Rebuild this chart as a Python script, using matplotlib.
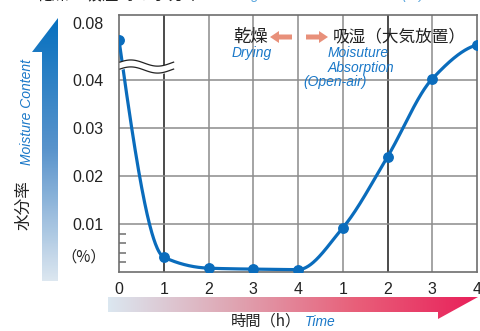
import numpy as np
import matplotlib
matplotlib.use("Agg")
import matplotlib.pyplot as plt
from matplotlib.patches import Polygon, FancyArrow
from matplotlib.colors import LinearSegmentedColormap
import matplotlib.transforms as mtransforms

# ---- data ----
drying_hours = [0, 1, 2, 3, 4]
drying_moisture = [0.068, 0.0031, 0.0008, 0.0006, 0.0005]
absorb_hours = [1, 2, 3, 4]
absorb_moisture = [0.0092, 0.024, 0.0408, 0.0646]
y_tick_values = [0.01, 0.02, 0.03, 0.04, 0.08]
y_tick_labels = ["0.01", "0.02", "0.03", "0.04", "0.08"]
y_minor_ticks = [0.002, 0.004, 0.006, 0.008]

BLUE = "#0a6cbc"
TEXT_BLUE = "#1a78c8"
FONT = ["Liberation Sans", "Noto Sans CJK JP", "DejaVu Sans"]
JP = ["Noto Sans CJK JP", "Liberation Sans"]
plt.rcParams["font.family"] = FONT

# broken axis: everything above 0.04 is squeezed
BREAK = 0.04
SQUEEZE = 0.297


def fwd(v):
    v = np.asarray(v, dtype=float)
    return np.where(v <= BREAK, v, BREAK + (v - BREAK) * SQUEEZE)


def inv(d):
    d = np.asarray(d, dtype=float)
    return np.where(d <= BREAK, d, BREAK + (d - BREAK) / SQUEEZE)


def pchip(x, y, xs):
    """monotone cubic through the points, only used to draw the smooth line"""
    x = np.asarray(x, float)
    y = np.asarray(y, float)
    h = np.diff(x)
    delta = np.diff(y) / h
    n = len(x)
    d = np.zeros(n)
    for k in range(1, n - 1):
        if delta[k - 1] * delta[k] <= 0:
            d[k] = 0.0
        else:
            w1 = 2 * h[k] + h[k - 1]
            w2 = h[k] + 2 * h[k - 1]
            d[k] = (w1 + w2) / (w1 / delta[k - 1] + w2 / delta[k])

    def end(h0, h1, d0, d1):
        s = ((2 * h0 + h1) * d0 - h0 * d1) / (h0 + h1)
        if np.sign(s) != np.sign(d0):
            return 0.0
        if np.sign(d0) != np.sign(d1) and abs(s) > 3 * abs(d0):
            return 3 * d0
        return s

    d[0] = end(h[0], h[1], delta[0], delta[1])
    d[-1] = end(h[-1], h[-2], delta[-1], delta[-2])
    idx = np.clip(np.searchsorted(x, xs) - 1, 0, n - 2)
    t = (xs - x[idx]) / h[idx]
    h00 = 2 * t**3 - 3 * t**2 + 1
    h10 = t**3 - 2 * t**2 + t
    h01 = -2 * t**3 + 3 * t**2
    h11 = t**3 - t**2
    return h00 * y[idx] + h10 * h[idx] * d[idx] + h01 * y[idx + 1] + h11 * h[idx] * d[idx + 1]


fig = plt.figure(figsize=(4.8, 3.31), dpi=100)
ax = fig.add_axes([119 / 480, 59 / 331, 358 / 480, 257 / 331])
ax.set_facecolor("none")

xpos = list(range(len(drying_hours))) + [len(drying_hours) - 1 + h for h in absorb_hours]
xlabels = [str(h) for h in drying_hours] + [str(h) for h in absorb_hours]
values = drying_moisture + absorb_moisture

ax.set_yscale("function", functions=(fwd, inv))
ax.set_xlim(0, xpos[-1])
ax.set_ylim(0, 0.0856)

# grid
for xp in xpos[1:-1]:
    col = "#1a1a1a" if xp in (1, 6) else "#8c8c8c"
    ax.axvline(xp, color=col, lw=1.1, zorder=1)
for yv in y_tick_values[:4]:
    ax.axhline(yv, color="#8c8c8c", lw=1.1, zorder=1)
for s in ax.spines.values():
    s.set_color("#6e6e6e")
    s.set_linewidth(1.2)

# smooth line + markers
xs = np.linspace(0, xpos[-1], 600)
ys = inv(pchip(xpos, fwd(values), xs))
ax.plot(xs, ys, color=BLUE, lw=2.3, zorder=3, solid_capstyle="round")
ax.plot(xpos, values, "o", color=BLUE, ms=6.8, zorder=4)

# break symbol
tb = mtransforms.blended_transform_factory(ax.transData, ax.transAxes)
wx = np.linspace(0.02, 1.22, 80)
wave = 0.012 * np.sin((wx - 0.02) / 1.2 * 2 * np.pi + 0.3)
lo = 0.786 + wave
hi = 0.813 + wave
ax.fill_between(wx, lo, hi, color="white", transform=tb, zorder=5)
ax.plot(wx, lo, color="#222222", lw=0.9, transform=tb, zorder=6)
ax.plot(wx, hi, color="#222222", lw=0.9, transform=tb, zorder=6)

# ticks
ax.set_xticks(xpos)
ax.set_xticklabels(xlabels)
ax.set_yticks(y_tick_values)
ax.set_yticklabels(y_tick_labels)
ax.set_yticks(y_minor_ticks, minor=True)
ax.tick_params(axis="both", which="major", length=0, labelsize=11.5, colors="#222222")
ax.tick_params(axis="y", which="major", pad=11)
ax.tick_params(axis="x", which="major", pad=7)
ax.tick_params(axis="y", which="minor", direction="in", length=5, width=1.1, color="#6e6e6e")
ax.tick_params(axis="x", which="minor", length=0)

# ---- overlay in pixel coordinates for arrows and labels ----
ov = fig.add_axes([0, 0, 1, 1])
ov.axis("off")
ov.patch.set_alpha(0)

# vertical gradient arrow
vcmap = LinearSegmentedColormap.from_list("v", ["#0670bf", "#5a94cc", "#dde7f0"])
vpoly = Polygon([(42, 281), (58, 281), (58, 18), (32, 52), (42, 52)], closed=True,
                facecolor="none", edgecolor="none", transform=ov.transData)
ov.add_patch(vpoly)
grad = np.linspace(0, 1, 256).reshape(-1, 1)
im = ov.imshow(grad, cmap=vcmap, extent=(30, 60, 281, 18), aspect="auto", zorder=1)
im.set_clip_path(vpoly)

# horizontal gradient arrow
hcmap = LinearSegmentedColormap.from_list("h", ["#dbe7f0", "#dfa6b3", "#e8607a", "#e8205a"])
hpoly = Polygon([(108, 297), (478, 297), (438, 319), (438, 312), (108, 312)], closed=True,
                facecolor="none", edgecolor="none", transform=ov.transData)
ov.add_patch(hpoly)
hgrad = np.linspace(0, 1, 256).reshape(1, -1)
im2 = ov.imshow(hgrad, cmap=hcmap, extent=(108, 478, 320, 296), aspect="auto", zorder=1)
im2.set_clip_path(hpoly)

ov.set_xlim(0, 480)
ov.set_ylim(331, 0)

# y-axis captions
ov.text(24, 205, "水分率", rotation=90, ha="center", va="center", fontsize=12,
        family=JP, color="#222222")
ov.text(27, 112, "Moisture Content", rotation=90, ha="center", va="center", fontsize=10,
        style="italic", color=TEXT_BLUE)
ov.text(84, 257, "（%）", ha="center", va="center", fontsize=11, family=JP, color="#222222")

# x-axis caption
ov.text(301, 321, "時間（h）", ha="right", va="center", fontsize=11, family=JP, color="#222222")
ov.text(305, 322, "Time", ha="left", va="center", fontsize=10, style="italic", color=TEXT_BLUE)

# annotations
ov.text(268, 37, "乾燥", ha="right", va="center", fontsize=12.5, family=JP, color="#222222")
ov.text(333, 37, "吸湿（大気放置）", ha="left", va="center", fontsize=12, family=JP, color="#222222")
arrow_col = "#e8907a"
ov.add_patch(FancyArrow(292, 37, -22, 0, width=5, head_width=12, head_length=9,
                        length_includes_head=True, color=arrow_col, lw=0))
ov.add_patch(FancyArrow(306, 37, 22, 0, width=5, head_width=12, head_length=9,
                        length_includes_head=True, color=arrow_col, lw=0))
ov.text(232, 53, "Drying", ha="left", va="center", fontsize=10, style="italic", color=TEXT_BLUE)
ov.text(328, 53, "Moisuture", ha="left", va="center", fontsize=10, style="italic", color=TEXT_BLUE)
ov.text(328, 68, "Absorption", ha="left", va="center", fontsize=10, style="italic", color=TEXT_BLUE)
ov.text(303, 82, "(Open-air)", ha="left", va="center", fontsize=10, style="italic", color=TEXT_BLUE)

# title, mostly cut off at the top edge of the image (as in the reference)
ov.text(35, -5, "乾燥・吸湿時の水分率", ha="left", va="center", fontsize=12,
        family=JP, color="#222222")
ov.text(218, -5, "Changes in Moisture Content (%)", ha="left", va="center",
        fontsize=10, style="italic", color="#5aa6de")

fig.savefig("out.png", dpi=100)
